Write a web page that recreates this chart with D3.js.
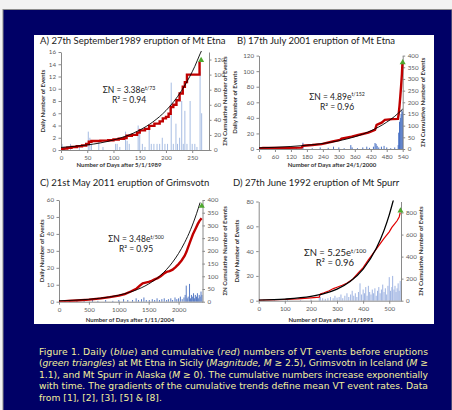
<!DOCTYPE html>
<html>
<head>
<meta charset="utf-8">
<script src="https://cdn.jsdelivr.net/npm/d3@7"></script>
<style>
  body { margin: 0; background: #fff; }
  svg { display: block; }
</style>
</head>
<body>
<svg id="fig" width="452" height="410"></svg>
<script>
// ---- data ----
// A) Etna 1989 : [day, value]
const aRed = [[0,1],[5,2],[12,3],[20,4],[30,5],[40,6],[48,8],[53,11],[58,12],[75,12.5],[90,13],[100,14],[110,15],[120,16],[125,19],[135,20],[145,23],[150,26],[160,28],[168,32],[178,35],[188,38],[194,42],[200,44],[205,48],[209,57],[214,60],[220,66],[226,75],[232,84],[236,90],[240,100],[264,117]];
const aTrend = [[0,3.4],[25,4.8],[50,6.7],[75,9.4],[100,13.3],[125,18.7],[150,26.4],[175,37.2],[200,52.3],[215,64.3],[230,79],[245,97],[255,111],[265,127.5],[268,132]];
const aBars = [[2,1],[8,0.5],[18,1],[35,0.5],[52,3],[55,2],[58,1],[72,1.5],[80,0.5],[104,1],[107,1],[112,0.5],[123,3],[126,1.5],[130,1],[147,4],[150,3.5],[155,1],[160,0.5],[168,3.4],[172,1],[177,1],[183,1],[188,1],[193,2],[198,1],[203,1],[210,11],[214,1],[219,4.3],[222,1],[226,2],[230,8],[233,1],[236,6.4],[240,1],[246,8],[250,1],[255,1],[259,0.5],[265,12.8],[268,6]];
const aTri = [[267,119]];
const aXTicks = [0,50,100,150,200,250];
const aLTicks = [0,2,4,6,8,10,12,14,16];
const aRTicks = [0,20,40,60,80,100,120];

// B) Etna 2001
const bRed = [[0,0],[3,3],[15,4],[100,5],[160,6],[166,14],[200,17],[235,21],[273,31],[304,39],[310,44],[348,53],[373,60],[411,70],[436,82],[442,103],[461,113],[473,125],[500,128],[522,129],[525,150],[528,185],[531,225],[534,270],[537,320],[539,368]];
const bTrend = [[0,4.9],[60,7.3],[120,10.8],[180,16],[240,23.7],[300,35.2],[360,52.2],[420,77.5],[480,115],[510,140],[540,171]];
const bBars = [[20,2],[45,1],[80,1],[110,1.5],[140,1],[165,8],[200,1],[230,2],[260,1.5],[280,3],[300,2],[320,1],[345,5],[350,2],[370,1],[390,2],[405,3],[415,1.5],[430,3],[436,7.7],[440,6.6],[444,4],[450,2],[460,3],[470,4],[480,2],[495,1],[510,2],[523,5],[525,21],[528,35],[531,40],[534,45],[537,50],[539,48]];
const bTri = [[540,370]];
const bXTicks = [0,60,120,180,240,300,360,420,480,540];
const bLTicks = [0,20,40,60,80,100,120];
const bRTicks = [0,50,100,150,200,250,300,350,400];

// C) Grimsvotn 2011
const cRed = [[0,0],[150,3],[300,5],[500,8],[700,13],[850,18],[1000,24],[1100,30],[1200,40],[1300,52],[1360,65],[1400,72],[1450,75],[1500,78],[1550,82],[1600,88],[1650,93],[1700,100],[1750,110],[1800,117],[1850,120],[1900,126],[1950,136],[2000,148],[2050,162],[2100,180],[2130,195],[2160,215],[2200,240],[2240,265],[2280,285],[2320,305],[2350,318],[2385,328]];
const cTrend = [[0,3.5],[250,5.7],[500,9.5],[750,15.6],[1000,25.7],[1250,42.4],[1500,69.9],[1700,104],[1900,155.5],[2000,190],[2100,232],[2200,283],[2300,346],[2360,390]];
const cBars = [[100,1],[180,0.5],[300,1],[420,0.5],[560,1],[650,0.5],[780,1],[900,0.5],[1000,1],[1080,1.5],[1150,1],[1230,1],[1290,2],[1330,1],[1380,1.5],[1420,2.5],[1460,1],[1510,1],[1560,1.5],[1600,1],[1640,2],[1680,1],[1720,1.5],[1760,2],[1800,1],[1830,1.5],[1870,2],[1900,1],[1940,2.5],[1970,1.5],[2000,2],[2030,3],[2060,1.5],[2090,2.5],[2110,4],[2128,9.5],[2145,2],[2160,3],[2183,10.5],[2200,2],[2215,4],[2230,3],[2250,5],[2265,2],[2280,4],[2300,3],[2315,5],[2330,2],[2345,4],[2360,3],[2375,6],[2390,4]];
const cTri = [[2388,376]];
const cXTicks = [0,500,1000,1500,2000];
const cLTicks = [0,10,20,30,40,50,60];
const cRTicks = [0,50,100,150,200,250,300,350,400];

// D) Spurr 1992
const dRed = [[0,4],[50,7],[100,11],[150,17],[200,26],[232,32],[236,62],[250,72],[270,90],[286,110],[300,122],[320,140],[337,158],[360,195],[382,255],[400,300],[420,370],[446,455],[460,500],[480,565],[500,625],[510,665],[520,695],[530,725],[538,760],[542,800]];
const dTrend = [[0,5.3],[100,14.3],[200,38.8],[250,64],[300,105],[350,174],[400,287],[450,473],[480,638],[500,779],[516,915]];
const dBars = [[20,1],[60,0.5],[110,1],[160,0.5],[200,1],[232,4],[236,3],[245,2],[255,1.5],[265,2],[275,3],[285,2],[292,4],[300,2.5],[308,3],[315,5],[322,2],[330,4],[338,6],[345,3],[352,5],[358,8],[364,4],[370,6],[376,3],[382,7],[388,14],[394,5],[400,9],[405,6],[410,11],[415,4],[420,12],[425,7],[430,5],[435,9],[440,6],[445,10],[450,4],[455,8],[460,11],[465,6],[470,9],[475,13],[480,7],[485,10],[490,5],[495,12],[500,19],[505,8],[510,11],[513,20],[518,9],[522,12],[526,7],[530,10],[534,14],[538,8],[542,16]];
const dTri = [[543,815]];
const dXTicks = [0,100,200,300,400,500];
const dLTicks = [0,20,40,60,80];
const dRTicks = [0,200,400,600,800];

// caption lines: [text, italic]
const captionLines = [
  [["Figure 1. Daily (",0],["blue",1],[") and cumulative (",0],["red",1],[") numbers of VT events before eruptions",0]],
  [["(",0],["green triangles",1],[") at Mt Etna in Sicily (",0],["Magnitude, M",1],[" \u2265 2.5), Grimsvotn in Iceland (",0],["M",1],[" \u2265",0]],
  [["1.1), and Mt Spurr in Alaska (",0],["M",1],[" \u2265 0). The cumulative numbers increase exponentially",0]],
  [["with time. The gradients of the cumulative trends define mean VT event rates. Data",0]],
  [["from [1], [2], [3], [5] & [8].",0]]
];

// ---- layout ----
const panels = [
  {title:"A) 27th September1989 eruption of Mt Etna", tx:40, ty:44,
   xDom:[0,282], xR:[61,209], yR:[150,52], lDom:[0,16], rDom:[0,130],
   xTicks:aXTicks, lTicks:aLTicks, rTicks:aRTicks,
   red:aRed, trend:aTrend, bars:aBars, tri:aTri, step:true, redW:2.4, barCol:"#a7bde3",
   eq:["3.38","t/73","0.94"], eqX:129, eqY:93, eqR:103, eqSize:8.5,
   xTitle:"Number of Days after 5/1/1989", xtX:119, xtY:166.5, ltX:43, rtX:225},
  {title:"B) 17th July 2001 eruption of Mt Etna", tx:237, ty:44,
   xDom:[0,540], xR:[259,402.7], yR:[149,55.6], lDom:[0,120], rDom:[0,400],
   xTicks:bXTicks, lTicks:bLTicks, rTicks:bRTicks,
   red:bRed, trend:bTrend, bars:bBars, tri:bTri, step:false, redW:2.4, barCol:"#4a72c4",
   eq:["4.89","t/152","0.96"], eqX:337, eqY:99.5, eqR:110, eqSize:8.5,
   xTitle:"Number of Days after 24/1/2000", xtX:332, xtY:166.5, ltX:235, rtX:423},
  {title:"C) 21st May 2011 eruption of Grimsvotn", tx:40, ty:186,
   xDom:[0,2400], xR:[59,202.5], yR:[301.7,200], lDom:[0,60], rDom:[0,400],
   xTicks:cXTicks, lTicks:cLTicks, rTicks:cRTicks,
   red:cRed, trend:cTrend, bars:cBars, tri:cTri, step:false, redW:2.4, barCol:"#5a7dc6",
   eq:["3.48","t/500","0.95"], eqX:136, eqY:242, eqR:251.5, eqSize:8.5,
   xTitle:"Number of Days after 1/11/2004", xtX:130, xtY:321.5, ltX:42, rtX:225},
  {title:"D) 27th June 1992 eruption of Mt Spurr", tx:233, ty:186,
   xDom:[0,545], xR:[258.7,401], yR:[300.7,201.5], lDom:[0,80], rDom:[0,900],
   xTicks:dXTicks, lTicks:dLTicks, rTicks:dRTicks,
   red:dRed, trend:dTrend, bars:dBars, tri:dTri, step:false, redW:1.2, barCol:"#9fb4e2",
   eq:["5.25","t/100","0.96"], eqX:335, eqY:256, eqR:265.5, eqSize:9.5,
   xTitle:"Number of Days after 1/1/1991", xtX:331, xtY:321.5, ltX:237, rtX:421}
];

const FONT = "Lato, 'Open Sans', sans-serif";
const svg = d3.select("#fig");

// background frame
svg.append("rect").attr("width",452).attr("height",410).attr("fill","#f2f2f2");
svg.append("rect").attr("x",3).attr("y",9.5).attr("width",449).attr("height",401)
   .attr("fill","#000066").attr("stroke","#8c8c8c").attr("stroke-width",1);
svg.append("rect").attr("x",34).attr("y",35).attr("width",400).attr("height",289).attr("fill","#fff");

panels.forEach((p, i) => drawPanel(p, i));

function drawPanel(p, i) {
  let g = svg.append("g");
  let x = d3.scaleLinear().domain(p.xDom).range(p.xR);
  let yl = d3.scaleLinear().domain(p.lDom).range(p.yR);
  let yr = d3.scaleLinear().domain(p.rDom).range(p.yR);
  let fmt = d3.format("d");

  g.append("clipPath").attr("id","clip"+i).append("rect")
    .attr("x",p.xR[0]).attr("y",p.yR[1]-1)
    .attr("width",p.xR[1]-p.xR[0]+4).attr("height",p.yR[0]-p.yR[1]+1);

  g.append("text").attr("x",p.tx).attr("y",p.ty).text(p.title)
    .style("font-family",FONT).style("font-size","9.5px").attr("fill","#222");

  // daily bars
  g.append("g").selectAll("rect").data(p.bars).join("rect")
    .attr("x", d => x(d[0]) - 0.5).attr("width", 1)
    .attr("y", d => yl(d[1])).attr("height", d => yl(0) - yl(d[1]))
    .attr("fill", p.barCol);

  // axes
  let axStyle = sel => {
    sel.select(".domain").attr("stroke","#8a8a8a");
    sel.selectAll(".tick line").attr("stroke","#8a8a8a");
    sel.selectAll("text").attr("fill","#595959").style("font-family",FONT).style("font-size","6.2px");
  };
  g.append("g").attr("transform","translate(0,"+p.yR[0]+")")
    .call(d3.axisBottom(x).tickValues(p.xTicks).tickFormat(fmt).tickSize(3).tickSizeOuter(0).tickPadding(3))
    .call(axStyle);
  g.append("g").attr("transform","translate("+p.xR[0]+",0)")
    .call(d3.axisLeft(yl).tickValues(p.lTicks).tickFormat(fmt).tickSize(2.5).tickSizeOuter(0).tickPadding(2.5))
    .call(axStyle);
  g.append("g").attr("transform","translate("+p.xR[1]+",0)")
    .call(d3.axisRight(yr).tickValues(p.rTicks).tickFormat(fmt).tickSize(2.5).tickSizeOuter(0).tickPadding(2.5))
    .call(axStyle);

  // trend + cumulative
  let plot = g.append("g").attr("clip-path","url(#clip"+i+")");
  plot.append("path").datum(p.red)
    .attr("d", d3.line().x(d => x(d[0])).y(d => yr(d[1])).curve(p.step ? d3.curveStepAfter : d3.curveLinear))
    .attr("fill","none").attr("stroke", p.redW > 2 ? "#c00000" : "#e00000").attr("stroke-width",p.redW);
  plot.append("path").datum(p.trend)
    .attr("d", d3.line().x(d => x(d[0])).y(d => yr(d[1])).curve(d3.curveMonotoneX))
    .attr("fill","none").attr("stroke","#000").attr("stroke-width", p.redW > 2 ? 0.9 : 1.3);

  g.selectAll(".tri").data(p.tri).join("path")
    .attr("transform", d => "translate("+x(d[0])+","+yr(d[1])+")")
    .attr("d", d3.symbol(d3.symbolTriangle).size(16))
    .attr("fill","#4ea72e");

  // equation
  let eq = g.append("text").attr("x",p.eqX).attr("y",p.eqY).attr("text-anchor","middle")
    .style("font-family",FONT).style("font-size",p.eqSize+"px").attr("fill","#222");
  eq.append("tspan").text("\u03A3N = " + p.eq[0] + "e");
  eq.append("tspan").attr("dy",-3.5).style("font-size",(p.eqSize*0.62)+"px").text(p.eq[1]);
  g.append("text").attr("x",p.eqX).attr("y",p.eqR).attr("text-anchor","middle")
    .style("font-family",FONT).style("font-size",p.eqSize+"px").attr("fill","#222")
    .text("R\u00B2 = " + p.eq[2]);

  // axis titles
  let tstyle = t => t.style("font-family",FONT).style("font-size","6px").style("font-weight","bold").attr("fill","#333");
  g.append("text").attr("x",p.xtX).attr("y",p.xtY).attr("text-anchor","middle").text(p.xTitle).call(tstyle);
  let midY = (p.yR[0] + p.yR[1]) / 2;
  g.append("text").attr("transform","translate("+p.ltX+","+midY+") rotate(-90)")
    .attr("text-anchor","middle").attr("dy","0.35em").text("Daily Number of Events").call(tstyle);
  g.append("text").attr("transform","translate("+p.rtX+","+midY+") rotate(-90)")
    .attr("text-anchor","middle").attr("dy","0.35em").text("\u03A3N Cumulative Number of Events").call(tstyle);
}

// caption
const cap = svg.append("g");
captionLines.forEach((segs, k) => {
  let t = cap.append("text").attr("x",39).attr("y",354.5 + k*11.6)
    .style("font-family","'DejaVu Sans', sans-serif").style("font-size","9.2px").attr("fill","#f4f09c");
  if (k < captionLines.length - 1) t.attr("textLength",389).attr("lengthAdjust","spacing");
  segs.forEach(s => t.append("tspan").text(s[0]).style("font-style", s[1] ? "italic" : "normal"));
});
</script>
</body>
</html>
